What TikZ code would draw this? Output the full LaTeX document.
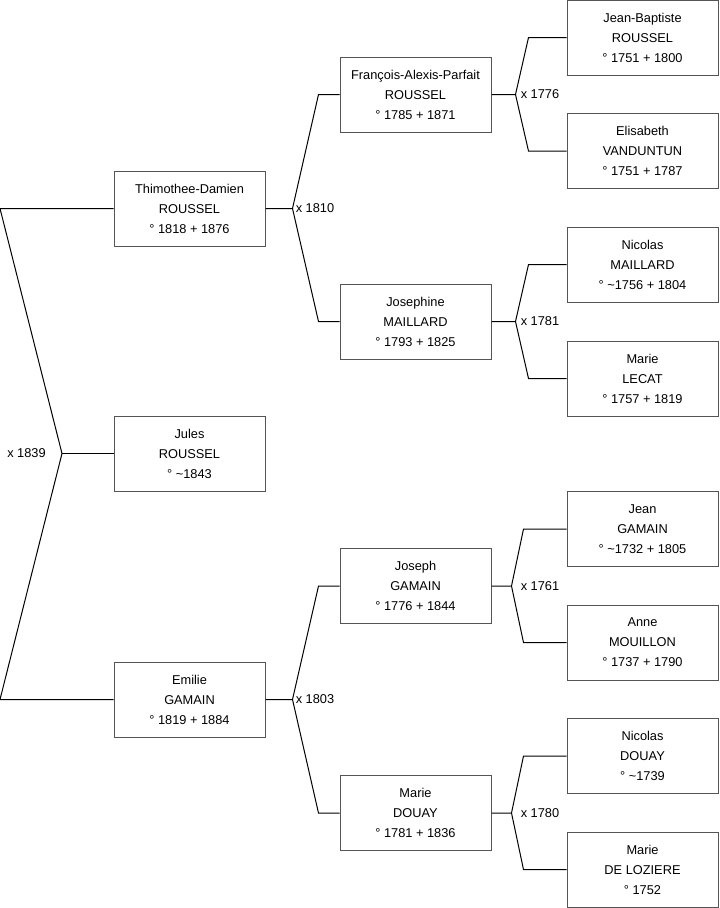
\documentclass[tikz,border=0pt]{standalone}
\usepackage{fontspec}
\setmainfont{Liberation Sans}
\usetikzlibrary{positioning,calc}
\definecolor{boxgrey}{HTML}{555555}
\tikzset{
  % personer
  pers/.style={rectangle,draw=boxgrey,line width=0.75pt,fill=white,inner sep=0pt,
               minimum width=113.25pt,minimum height=56.25pt,align=center,
               font=\fontsize{9.6}{15}\selectfont},
  % linjer och vigslar
  lnk/.style={draw=black,line width=0.75pt},
  mar/.style={font=\fontsize{9.6}{12}\selectfont,inner sep=0pt},
}
\begin{document}
\begin{tikzpicture}[x=0.75pt,y=-0.75pt]
\useasboundingbox (0,0) rectangle (719,908);
  \node[pers] (n1) at (189.5,453.5) {Jules\\ROUSSEL\\° \textasciitilde1843};
  \node[pers] (n2) at (189.5,208.5) {Thimothee-Damien\\ROUSSEL\\° 1818 + 1876};
  \node[pers] (n3) at (189.5,699.5) {Emilie\\GAMAIN\\° 1819 + 1884};
  \node[pers] (n4) at (415.5,94.5) {François-Alexis-Parfait\\ROUSSEL\\° 1785 + 1871};
  \node[pers] (n5) at (415.5,321.5) {Josephine\\MAILLARD\\° 1793 + 1825};
  \node[pers] (n6) at (415.5,586) {Joseph\\GAMAIN\\° 1776 + 1844};
  \node[pers] (n7) at (415.5,813) {Marie\\DOUAY\\° 1781 + 1836};
  \node[pers] (n8) at (642.5,37.5) {Jean-Baptiste\\ROUSSEL\\° 1751 + 1800};
  \node[pers] (n9) at (642.5,151) {Elisabeth\\VANDUNTUN\\° 1751 + 1787};
  \node[pers] (n10) at (642.5,264.5) {Nicolas\\MAILLARD\\° \textasciitilde1756 + 1804};
  \node[pers] (n11) at (642.5,378.5) {Marie\\LECAT\\° 1757 + 1819};
  \node[pers] (n12) at (642.5,529) {Jean\\GAMAIN\\° \textasciitilde1732 + 1805};
  \node[pers] (n13) at (642.5,642.5) {Anne\\MOUILLON\\° 1737 + 1790};
  \node[pers] (n14) at (642.5,756) {Nicolas\\DOUAY\\° \textasciitilde1739};
  \node[pers] (n15) at (642.5,869.5) {Marie\\DE LOZIERE\\° 1752};
  % generation 1
  \coordinate (x1) at (62,453.5);
  \draw[lnk] (n1.west) -- (x1);
  \draw[lnk] (x1) -- (n2.west -| 0,0) -- (n2.west);
  \draw[lnk] (x1) -- (n3.west -| 0,0) -- (n3.west);
  \node[mar,left=12pt of x1] (m1) {x 1839};
  % generation 2
  \coordinate (x2) at ($(n2.east)+(27,0)$);
  \draw[lnk] (n2.east) -- (x2) -- ($(n4.west)+(-21,0)$) -- (n4.west);
  \draw[lnk] (x2) -- ($(n5.west)+(-21,0)$) -- (n5.west);
  \node[mar,right=2.25pt of x2] (m2) {x 1810};
  \coordinate (x3) at ($(n3.east)+(27,0)$);
  \draw[lnk] (n3.east) -- (x3) -- ($(n6.west)+(-21,0)$) -- (n6.west);
  \draw[lnk] (x3) -- ($(n7.west)+(-21,0)$) -- (n7.west);
  \node[mar,right=2.25pt of x3] (m3) {x 1803};
  % generation 3
  \coordinate (x4) at ($(n4.east)+(24,0)$);
  \draw[lnk] (n4.east) -- (x4) -- ($(n8.west)+(-38,0)$) -- (n8.west);
  \draw[lnk] (x4) -- ($(n9.west)+(-38,0)$) -- (n9.west);
  \node[mar,right=3.75pt of x4] (m4) {x 1776};
  \coordinate (x5) at ($(n5.east)+(24,0)$);
  \draw[lnk] (n5.east) -- (x5) -- ($(n10.west)+(-38,0)$) -- (n10.west);
  \draw[lnk] (x5) -- ($(n11.west)+(-38,0)$) -- (n11.west);
  \node[mar,right=3.75pt of x5] (m5) {x 1781};
  \coordinate (x6) at ($(n6.east)+(20,0)$);
  \draw[lnk] (n6.east) -- (x6) -- ($(n12.west)+(-43,0)$) -- (n12.west);
  \draw[lnk] (x6) -- ($(n13.west)+(-43,0)$) -- (n13.west);
  \node[mar,right=6.75pt of x6] (m6) {x 1761};
  \coordinate (x7) at ($(n7.east)+(20,0)$);
  \draw[lnk] (n7.east) -- (x7) -- ($(n14.west)+(-43,0)$) -- (n14.west);
  \draw[lnk] (x7) -- ($(n15.west)+(-43,0)$) -- (n15.west);
  \node[mar,right=6.75pt of x7] (m7) {x 1780};
\end{tikzpicture}
\end{document}
